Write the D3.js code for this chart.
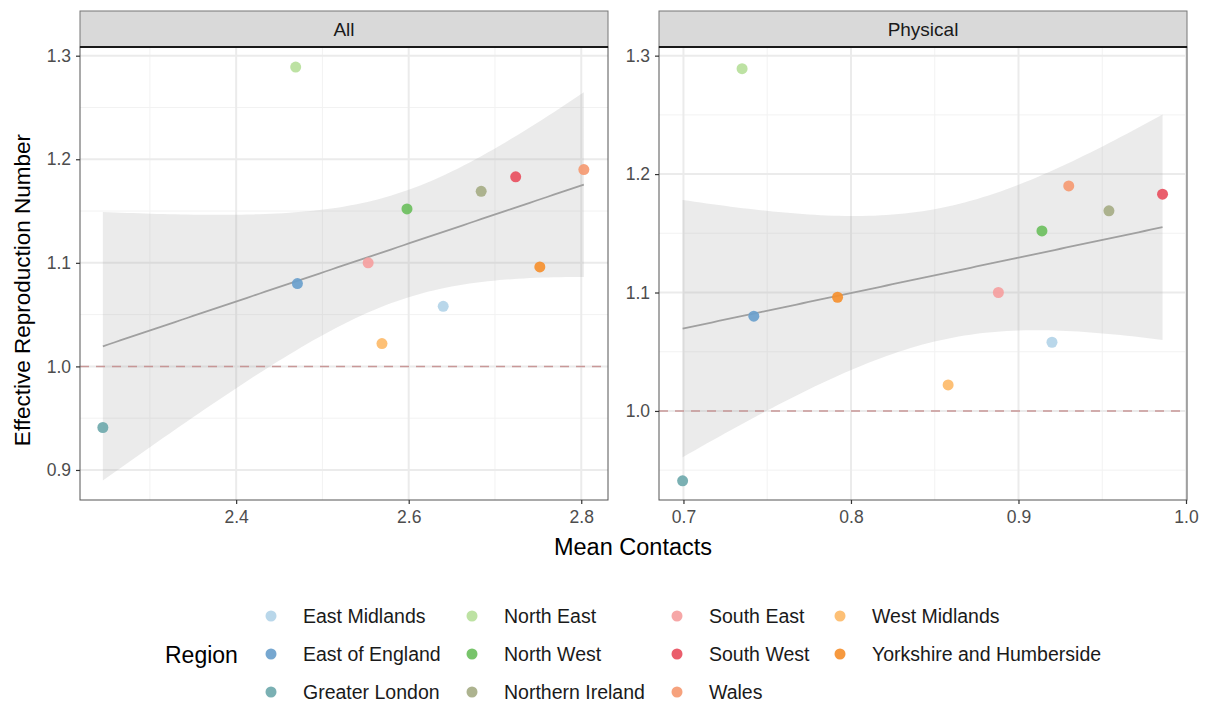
<!DOCTYPE html>
<html><head><meta charset="utf-8">
<script src="https://cdn.jsdelivr.net/npm/d3@7"></script>
<style>body{margin:0;background:#fff;font-family:"Liberation Sans",Arial,sans-serif}</style>
</head><body><svg id="c" width="1208" height="705"></svg>
<script>
const regions = ["East Midlands","East of England","Greater London","North East","North West","Northern Ireland","South East","South West","Wales","West Midlands","Yorkshire and Humberside"];
const colors = ["#b3d4e8","#6a9fcc","#6fa9ad","#b7e09b","#6cbf5e","#a6ad86","#f5a0a0","#e8505f","#f59a72","#fdbb6a","#f5902f"];
const rt = [1.058,1.080,0.941,1.289,1.152,1.169,1.100,1.183,1.190,1.022,1.096];
const contactsAll = [2.640,2.471,2.2455,2.469,2.598,2.684,2.553,2.724,2.803,2.569,2.752];
const contactsPhysical = [0.920,0.742,0.6995,0.735,0.914,0.954,0.888,0.986,0.930,0.858,0.792];
const panelNames = ["All","Physical"];
const xTicksAll = [2.4,2.6,2.8], xTicksPhys = [0.7,0.8,0.9,1.0];
const yTicksAll = [0.9,1.0,1.1,1.2,1.3], yTicksPhys = [1.0,1.1,1.2,1.3];

const svg = d3.select("#c");
const pTop = 47, pBottom = 500;
const panels = [
  {name:panelNames[0], x0:80, x1:608, xd:[2.219,2.831], yd:[0.871,1.3084], xs:contactsAll, xt:xTicksAll, yt:yTicksAll},
  {name:panelNames[1], x0:659, x1:1187, xd:[0.6854,1.0006], yd:[0.9248,1.3073], xs:contactsPhysical, xt:xTicksPhys, yt:yTicksPhys}
];
const zcrit = 1.96;
const FONT = "Liberation Sans, Arial, sans-serif";
panels.forEach(p=>{
  const x = d3.scaleLinear().domain(p.xd).range([p.x0,p.x1]);
  const y = d3.scaleLinear().domain(p.yd).range([pBottom,pTop]);
  const g = svg.append("g");
  g.append("rect").attr("x",p.x0).attr("y",pTop).attr("width",p.x1-p.x0).attr("height",pBottom-pTop).attr("fill","#fff");
  const yall = d3.range(Math.ceil(p.yd[0]*20)/20, p.yd[1], 0.05);
  let xGridMinor, xGridMajor;
  if (p.name==="All") {
    const xs10 = d3.range(Math.ceil(p.xd[0]*10), Math.floor(p.xd[1]*10)+1).map(v=>v/10);
    xGridMinor = xs10.filter(v=>Math.round(v*10)%2===1);
    xGridMajor = xs10.filter(v=>Math.round(v*10)%2===0);
  } else {
    const xs20 = d3.range(Math.ceil(p.xd[0]*20), Math.floor(p.xd[1]*20)+1).map(v=>v/20);
    xGridMinor = xs20.filter(v=>Math.round(v*20)%2===1);
    xGridMajor = xs20.filter(v=>Math.round(v*20)%2===0);
  }
  const yMinor = yall.filter(v=>Math.round(v*20)%2===1);
  const yMajor = yall.filter(v=>Math.round(v*20)%2===0);
  g.selectAll(".ymn").data(yMinor).enter().append("line").attr("x1",p.x0).attr("x2",p.x1).attr("y1",d=>y(d)).attr("y2",d=>y(d)).attr("stroke","#f2f2f2").attr("stroke-width",1);
  g.selectAll(".xmn").data(xGridMinor).enter().append("line").attr("y1",pTop).attr("y2",pBottom).attr("x1",d=>x(d)).attr("x2",d=>x(d)).attr("stroke","#f2f2f2").attr("stroke-width",1);
  g.selectAll(".ymj").data(yMajor).enter().append("line").attr("x1",p.x0).attr("x2",p.x1).attr("y1",d=>y(d)).attr("y2",d=>y(d)).attr("stroke","#ebebeb").attr("stroke-width",2);
  g.selectAll(".xmj").data(xGridMajor).enter().append("line").attr("y1",pTop).attr("y2",pBottom).attr("x1",d=>x(d)).attr("x2",d=>x(d)).attr("stroke","#ebebeb").attr("stroke-width",2);
  // regression with confidence band
  const n = rt.length;
  const mx = d3.mean(p.xs), my = d3.mean(rt);
  const sxx = d3.sum(p.xs,v=>(v-mx)**2);
  const b = d3.sum(p.xs.map((v,i)=>(v-mx)*(rt[i]-my)))/sxx;
  const a = my - b*mx;
  const s = Math.sqrt(d3.sum(p.xs.map((v,i)=>(rt[i]-a-b*v)**2))/(n-2));
  const [xmin,xmax] = d3.extent(p.xs);
  const grid = d3.range(0,81).map(i=>xmin+(xmax-xmin)*i/80);
  const band = grid.map(v=>{const f=a+b*v; const se=s*Math.sqrt(1/n+(v-mx)**2/sxx); return {x:v,lo:f-zcrit*se,hi:f+zcrit*se,f};});
  g.append("path").datum(band).attr("d",d3.area().x(d=>x(d.x)).y0(d=>y(d.lo)).y1(d=>y(d.hi))).attr("fill","#999").attr("opacity",0.2);
  g.append("line").attr("x1",p.x0).attr("x2",p.x1).attr("y1",y(1)).attr("y2",y(1)).attr("stroke","#c48a8a").attr("stroke-width",1.5).attr("stroke-dasharray","9,7").attr("opacity",0.85);
  g.append("path").datum(band).attr("d",d3.line().x(d=>x(d.x)).y(d=>y(d.f))).attr("fill","none").attr("stroke","#a0a0a0").attr("stroke-width",1.8);
  g.selectAll(".pt").data(rt).enter().append("circle").attr("cx",(d,i)=>x(p.xs[i])).attr("cy",d=>y(d)).attr("r",5.5).attr("fill",(d,i)=>colors[i]).attr("opacity",0.92);
  g.append("rect").attr("x",p.x0).attr("y",pTop).attr("width",p.x1-p.x0).attr("height",pBottom-pTop).attr("fill","none").attr("stroke","#555").attr("stroke-width",1);
  g.append("rect").attr("x",p.x0).attr("y",11).attr("width",p.x1-p.x0).attr("height",pTop-11).attr("fill","#d9d9d9").attr("stroke","#777").attr("stroke-width",1);
  g.append("line").attr("x1",p.x0).attr("x2",p.x1).attr("y1",pTop).attr("y2",pTop).attr("stroke","#1a1a1a").attr("stroke-width",2);
  g.append("text").attr("x",(p.x0+p.x1)/2).attr("y",36).attr("text-anchor","middle").attr("font-size",19).attr("fill","#1a1a1a").text(p.name);
  const xa = d3.axisBottom(x).tickValues(p.xt).tickSize(4).tickPadding(7).tickFormat(d3.format(".1f"));
  const ax = svg.append("g").attr("transform",`translate(0,${pBottom})`).call(xa);
  ax.select(".domain").remove();
  ax.selectAll("line").attr("stroke","#333").attr("stroke-width",1.2);
  ax.selectAll("text").attr("font-size",17.5).attr("fill","#4d4d4d").attr("font-family",FONT);
  const ya = d3.axisLeft(y).tickValues(p.yt).tickSize(4).tickPadding(5).tickFormat(d3.format(".1f"));
  const ay = svg.append("g").attr("transform",`translate(${p.x0},0)`).call(ya);
  ay.select(".domain").remove();
  ay.selectAll("line").attr("stroke","#333").attr("stroke-width",1.2);
  ay.selectAll("text").attr("font-size",17.5).attr("fill","#4d4d4d").attr("font-family",FONT);
});
svg.append("text").attr("x",633).attr("y",555).attr("text-anchor","middle").attr("font-size",23.5).attr("fill","#000").text("Mean Contacts");
svg.append("text").attr("transform","translate(30,290) rotate(-90)").attr("text-anchor","middle").attr("font-size",22.5).attr("fill","#000").text("Effective Reproduction Number");
svg.append("text").attr("x",165).attr("y",663).attr("font-size",23).attr("fill","#000").text("Region");
const colX = [271,472,677,840];
const rowY = [616,654,692];
const leg = svg.selectAll(".lg").data(regions).enter().append("g")
  .attr("transform",(d,i)=>`translate(${colX[Math.floor(i/3)]},${rowY[i%3]})`);
leg.append("circle").attr("r",5.5).attr("fill",(d,i)=>colors[i]).attr("opacity",0.92);
leg.append("text").attr("x",32).attr("y",6.5).attr("font-size",19.5).attr("fill","#1a1a1a").text(d=>d);
</script></body></html>
